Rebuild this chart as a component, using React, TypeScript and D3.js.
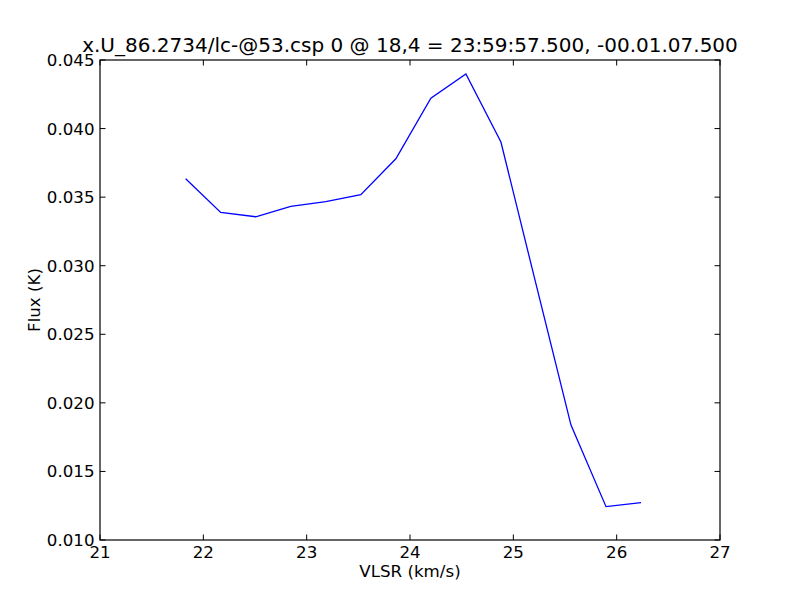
import React from "react";
import * as d3 from "d3";

const velocity = [21.829, 22.168, 22.507, 22.846, 23.185, 23.524, 23.863, 24.202, 24.541, 24.880, 25.219, 25.558, 25.897, 26.236];
const flux = [0.03634, 0.03389, 0.03357, 0.03433, 0.03467, 0.03518, 0.0378, 0.04221, 0.04398, 0.03902, 0.02867, 0.01838, 0.01243, 0.01272];
const xTicks = [21, 22, 23, 24, 25, 26, 27];
const yTicks = [0.01, 0.015, 0.02, 0.025, 0.03, 0.035, 0.04, 0.045];
const title = "x.U_86.2734/lc-@53.csp 0 @ 18,4 = 23:59:57.500, -00.01.07.500";
const xLabel = "VLSR (km/s)";
const yLabel = "Flux (K)";

export default function App() {
  const W = 800, H = 600;
  const left = 100, right = 720, top = 60, bottom = 540;
  const x = d3.scaleLinear().domain([21, 27]).range([left, right]);
  const y = d3.scaleLinear().domain([0.01, 0.045]).range([bottom, top]);
  const line = d3.line<number>().x((_, i) => x(velocity[i])).y((d) => y(d));
  const tl = 5.5;
  const font = "DejaVu Sans, sans-serif";
  return (
    <svg width={W} height={H} style={{ position: "absolute", left: 0, top: 0, background: "#fff" }} fontFamily={font}>
      <rect x={0} y={0} width={W} height={H} fill="#fff" />
      <path d={line(flux) || ""} fill="none" stroke="#0000ff" strokeWidth={1.3} />
      {xTicks.map((t) => (
        <g key={"x" + t}>
          <line x1={x(t)} x2={x(t)} y1={bottom} y2={bottom - tl} stroke="#000" strokeWidth={1} />
          <line x1={x(t)} x2={x(t)} y1={top} y2={top + tl} stroke="#000" strokeWidth={1} />
          <text x={x(t)} y={558} textAnchor="middle" fontSize={16.67} fill="#000">{t}</text>
        </g>
      ))}
      {yTicks.map((t) => (
        <g key={"y" + t}>
          <line x1={left} x2={left + tl} y1={y(t)} y2={y(t)} stroke="#000" strokeWidth={1} />
          <line x1={right} x2={right - tl} y1={y(t)} y2={y(t)} stroke="#000" strokeWidth={1} />
          <text x={94.5} y={y(t) + 6} textAnchor="end" fontSize={16.67} fill="#000">{d3.format(".3f")(t)}</text>
        </g>
      ))}
      <rect x={left} y={top} width={right - left} height={bottom - top} fill="none" stroke="#000" strokeWidth={1.2} />
      <text x={(left + right) / 2} y={52} textAnchor="middle" fontSize={20} fill="#000">{title}</text>
      <text x={(left + right) / 2} y={577} textAnchor="middle" fontSize={16.67} fill="#000">{xLabel}</text>
      <text transform={`translate(40,${(top + bottom) / 2}) rotate(-90)`} textAnchor="middle" fontSize={16.67} fill="#000">{yLabel}</text>
    </svg>
  );
}
